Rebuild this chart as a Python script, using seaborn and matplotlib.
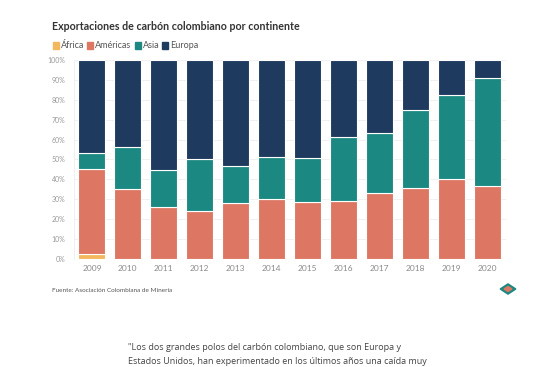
import pandas as pd
import numpy as np
import matplotlib
matplotlib.use('Agg')
import matplotlib.pyplot as plt
import seaborn as sns
from matplotlib.patches import RegularPolygon

# data (share of exports, %)
years = ['2009', '2010', '2011', '2012', '2013', '2014', '2015', '2016', '2017', '2018', '2019', '2020']
africa = [2.4, 0, 0, 0, 0, 0, 0, 0, 0, 0, 0, 0]
americas = [42.8, 35.0, 26.3, 24.0, 28.3, 30.0, 28.5, 29.0, 33.0, 35.5, 40.0, 36.7]
asia = [7.9, 21.4, 18.4, 26.3, 18.3, 21.1, 22.1, 32.2, 30.2, 39.4, 42.3, 54.4]
europe = [100 - a - b - c for a, b, c in zip(africa, americas, asia)]

continents = ['África', 'Américas', 'Asia', 'Europa']
colors = ['#f3b85e', '#dd7763', '#1c8882', '#1e3a5e']
yticks = [0, 10, 20, 30, 40, 50, 60, 70, 80, 90, 100]

df = pd.DataFrame({'year': years, 'África': africa, 'Américas': americas,
                   'Asia': asia, 'Europa': europe})

sns.set_style('white')
plt.rcParams['font.family'] = ['Lato', 'DejaVu Sans']

fig = plt.figure(figsize=(5.6, 3.67), dpi=100)
ax = fig.add_axes([0.132, 0.2943, 0.771, 0.5422])

bottom = np.zeros(len(years))
for name, col in zip(continents, colors):
    sns.barplot(data=df, x='year', y=name, color=col, width=0.75, bottom=bottom,
                edgecolor='white', linewidth=0.8, ax=ax, saturation=1)
    bottom = bottom + df[name].values

ax.set_ylim(0, 100)
ax.set_xlim(-0.5, len(years) - 0.5)
ax.set_yticks(yticks)
ax.set_yticklabels([f'{t}%' for t in yticks], fontsize=5, color='#9a9a9a')
ax.tick_params(axis='x', labelsize=6, colors='#8a8a8a', length=0, pad=4)
ax.tick_params(axis='y', length=0, pad=6)
ax.set_xlabel('')
ax.set_ylabel('')
ax.yaxis.grid(True, color='#efefef', linewidth=0.6)
ax.set_axisbelow(True)
for s in ['top', 'right', 'bottom']:
    ax.spines[s].set_visible(False)
ax.spines['left'].set_color('#eeeeee')
ax.spines['left'].set_linewidth(0.6)

# title and legend
fig.text(52 / 560, 1 - 27 / 367, 'Exportaciones de carbón colombiano por continente',
         fontsize=7.7, fontweight='bold', color='#333333', va='center', ha='left')
fig.canvas.draw()
x = 53
for name, col in zip(continents, colors):
    fig.patches.append(plt.Rectangle((x / 560, 1 - 48.5 / 367), 6 / 560, 6 / 367,
                                     transform=fig.transFigure, color=col))
    t = fig.text((x + 8) / 560, 1 - 45.5 / 367, name, fontsize=6.5, color='#555555',
                 va='center', ha='left')
    bb = t.get_window_extent(renderer=fig.canvas.get_renderer())
    x = bb.x1 + 3

fig.text(52 / 560, 1 - 290 / 367, 'Fuente: Asociación Colombiana de Minería',
         fontsize=4.6, color='#555555', va='center', ha='left')

# small logo mark
fig.patches.append(RegularPolygon((508 / 560, 1 - 289 / 367), 4, radius=0.014,
                                  transform=fig.transFigure, color='#1c8882'))
fig.patches.append(RegularPolygon((508 / 560, 1 - 289 / 367), 4, radius=0.007,
                                  transform=fig.transFigure, color='#dd7763'))

fig.text(128 / 560, 1 - 347 / 367,
         '"Los dos grandes polos del carbón colombiano, que son Europa y',
         fontsize=6.5, color='#444444', va='center', ha='left', family=['Open Sans', 'DejaVu Sans'])
fig.text(128 / 560, 1 - 361 / 367,
         'Estados Unidos, han experimentado en los últimos años una caída muy',
         fontsize=6.5, color='#444444', va='center', ha='left', family=['Open Sans', 'DejaVu Sans'])

fig.savefig('out.png', dpi=100, facecolor='white')
